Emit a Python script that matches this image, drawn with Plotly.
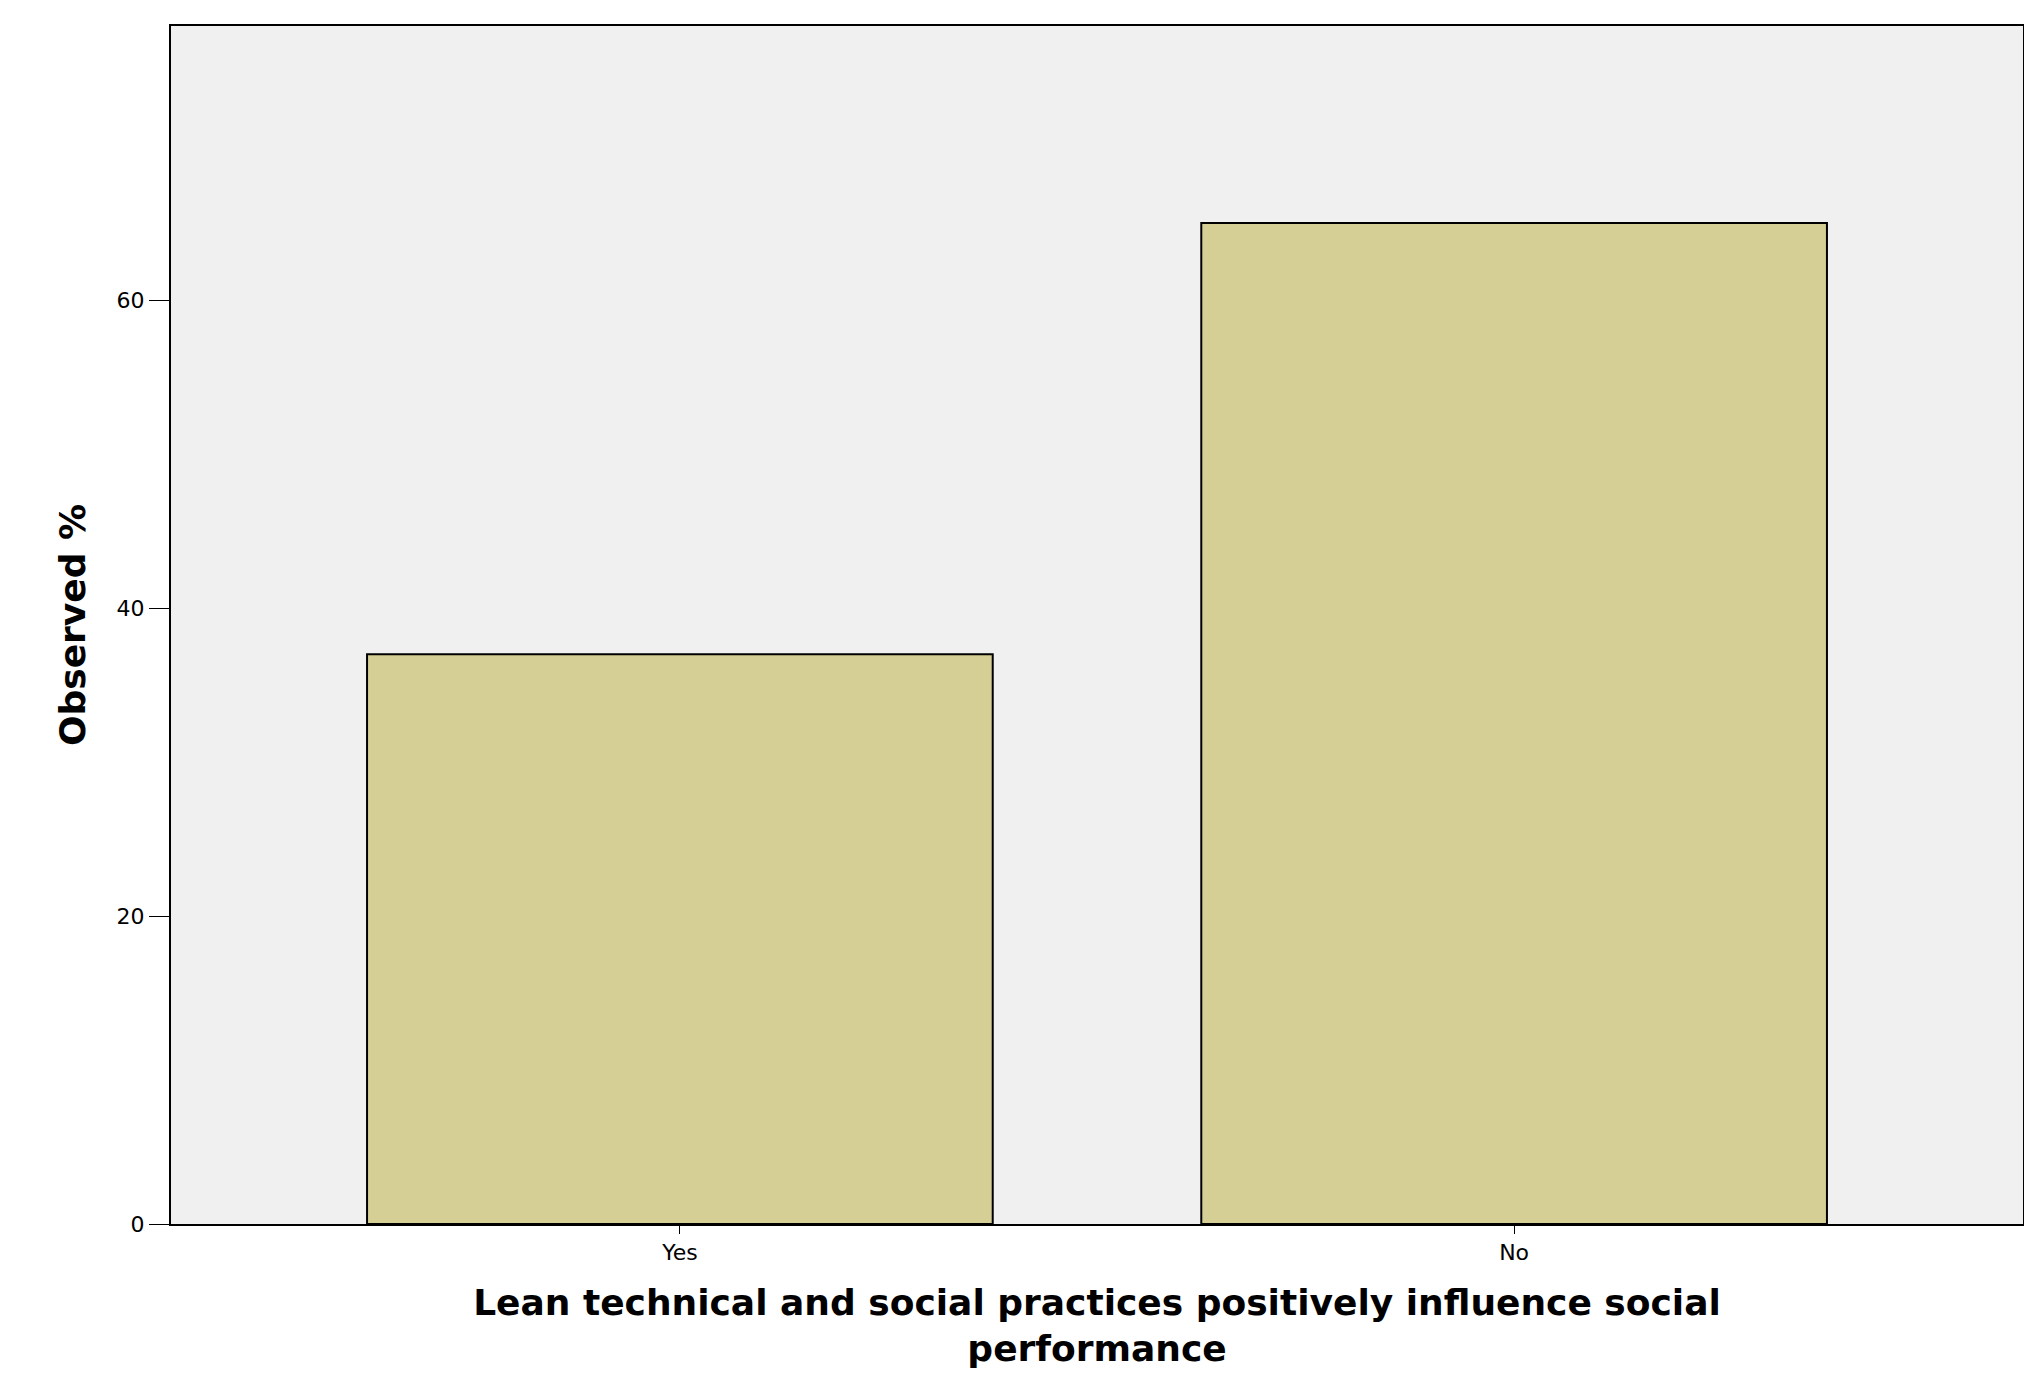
import plotly.graph_objects as go

# Values
categories = ["Yes", "No"]
observed_pct = [37.0, 65.0]

fig = go.Figure()
fig.add_trace(go.Bar(
    x=categories,
    y=observed_pct,
    width=0.75,
    marker=dict(color="#d5cf95", line=dict(color="black", width=2)),
))

fig.update_layout(
    width=2032, height=1400,
    paper_bgcolor="white",
    plot_bgcolor="#f0f0f0",
    margin=dict(l=163, r=17, t=18, b=184),
    showlegend=False,
    font=dict(family="DejaVu Sans", color="black"),
)
fig.update_xaxes(
    range=[-0.61, 1.61],
    showline=True, linecolor="black", linewidth=2, mirror=True,
    ticks="outside", ticklen=8, tickcolor="black",
    tickfont=dict(size=22),
    title=dict(text="<b>Lean technical and social practices positively influence social<br>performance</b>",
               font=dict(size=36), standoff=25),
)
fig.update_yaxes(
    range=[0, 77.8],
    tickvals=[0, 20, 40, 60],
    showgrid=False, zeroline=False,
    showline=True, linecolor="black", linewidth=2, mirror=True,
    ticks="outside", ticklen=20, tickcolor="black",
    tickfont=dict(size=22),
    title=dict(text="<b>Observed %</b>", font=dict(size=36), standoff=20),
)

fig.write_html("out.html")
